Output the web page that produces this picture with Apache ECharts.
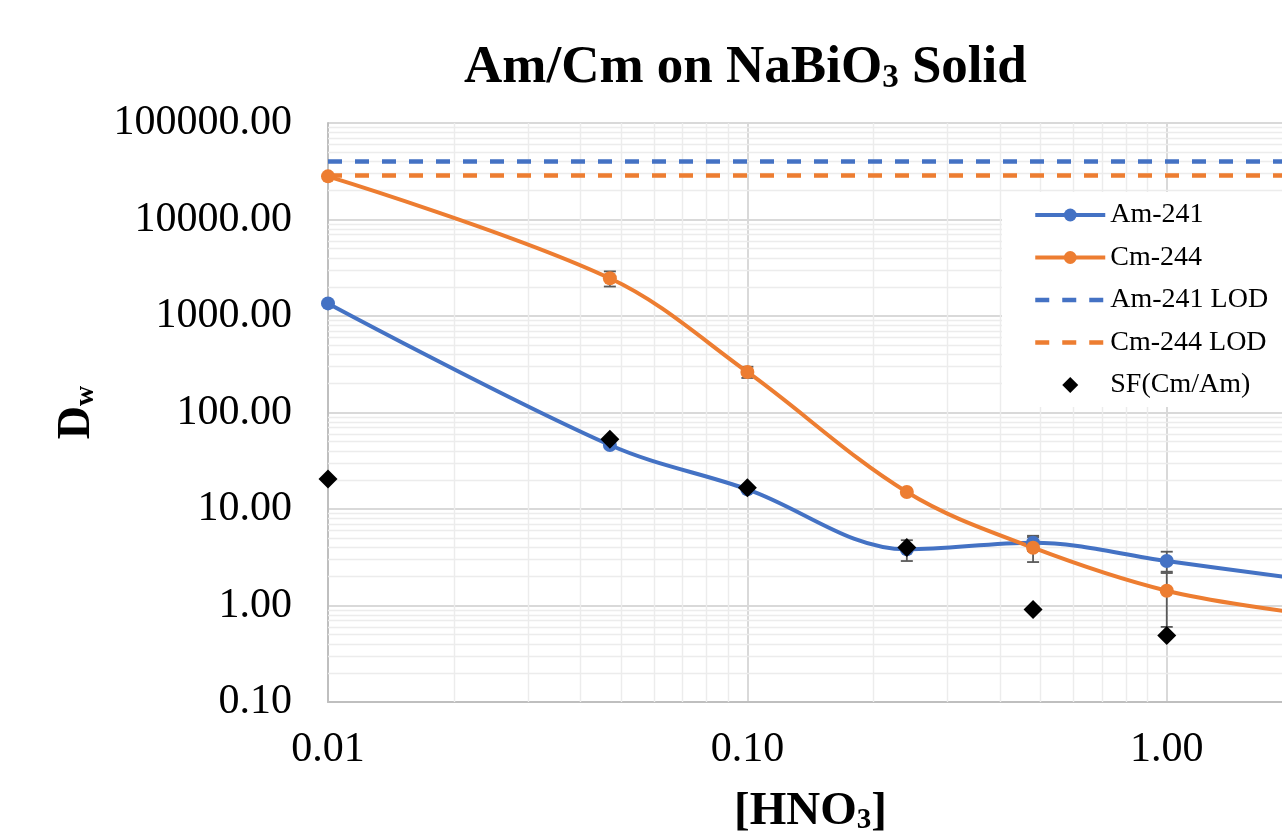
<!DOCTYPE html>
<html>
<head>
<meta charset="utf-8">
<script src="https://cdn.jsdelivr.net/npm/echarts@6/dist/echarts.min.js"></script>
<style>
  html, body { margin: 0; padding: 0; background: #ffffff; }
  #chart { width: 1282px; height: 831px; }
</style>
</head>
<body>
<div id="chart"></div>
<script>
// Nitric acid concentration (M) for each batch contact
const hno3 = [0.01, 0.047, 0.1, 0.24, 0.48, 1.0, 2.0];
// Weight distribution ratios
const am241 = [1350, 46, 16.0, 3.82, 4.48, 2.89, 1.93];
const cm244 = [28000, 2460, 263, 15.0, 3.97, 1.42, 0.85];
// One-sigma uncertainties (0 = none drawn)
const am241Err = [0, 0, 0, 0.93, 0.8, 0.72, 0];
const cm244Err = [0, 440, 35, 0, 1.15, 0.82, 0];
// Separation factor Cm/Am
const sfCmAm = [20.5, 52.8, 16.6, 4.0, 0.91, 0.49, 0.43];
// Limits of detection
const am241Lod = 40000;
const cm244Lod = 28500;
// Axis ranges
const xRange = [0.01, 2];
const yRange = [0.1, 100000];

const FONT = 'Liberation Serif';
const BLUE = '#4472C4';
const ORANGE = '#ED7D31';

const pairs = (xs, ys) => xs.map((x, i) => [x, ys[i]]);
const errData = (xs, ys, es) => xs
  .map((x, i) => [x, ys[i] - es[i], ys[i] + es[i], es[i]])
  .filter(d => d[3] > 0)
  .map(d => [d[0], d[1], d[2]]);

// Minor gridline positions (2..9 within each decade)
const minorX = [];
for (let e = -2; e <= 0; e++) {
  for (let m = 2; m <= 9; m++) {
    const v = +(m * Math.pow(10, e)).toPrecision(3);
    if (v > xRange[0] && v < xRange[1]) minorX.push(v);
  }
}
const minorY = [];
for (let e = -1; e <= 4; e++) {
  for (let m = 2; m <= 9; m++) {
    minorY.push(+(m * Math.pow(10, e)).toPrecision(3));
  }
}

function renderErrorBar(params, api) {
  const x = api.value(0);
  const top = api.coord([x, api.value(2)]);
  const bot = api.coord([x, api.value(1)]);
  const w = 6;
  const style = { stroke: '#595959', lineWidth: 1.8 };
  return {
    type: 'group',
    children: [
      { type: 'line', shape: { x1: top[0], y1: top[1], x2: bot[0], y2: bot[1] }, style },
      { type: 'line', shape: { x1: top[0] - w, y1: top[1], x2: top[0] + w, y2: top[1] }, style },
      { type: 'line', shape: { x1: bot[0] - w, y1: bot[1], x2: bot[0] + w, y2: bot[1] }, style }
    ]
  };
}

// Legend marker styles: LOD entries show only the dashed line; the
// separation-factor entry is a square diamond centred in the icon slot.
const hiddenMarker = { color: 'rgba(0,0,0,0)', borderWidth: 0, opacity: 0 };
const diamondIcon = 'path://M0,0L0.01,0L0,0.01Z M70,16L69.99,16L70,15.99Z M35,0L43,8L35,16L27,8Z';

const chart = echarts.init(document.getElementById('chart'), null, { renderer: 'canvas' });

chart.setOption({
  animation: false,
  backgroundColor: '#ffffff',
  textStyle: { fontFamily: FONT, color: '#000' },
  title: {
    text: '{a|Am/Cm on NaBiO}{s|3}{a| Solid}',
    left: 464,
    top: 42,
    padding: 0,
    textStyle: {
      rich: {
        a: { fontFamily: FONT, fontSize: 53, fontWeight: 'bold', lineHeight: 53, color: '#000' },
        s: { fontFamily: FONT, fontSize: 33, fontWeight: 'bold', lineHeight: 20, verticalAlign: 'bottom', color: '#000' }
      }
    }
  },
  legend: {
    orient: 'vertical',
    left: 1002,
    top: 192,
    z: 10,
    padding: [9, 300, 8, 31],
    itemGap: 14.5,
    itemWidth: 70,
    itemHeight: 16,
    symbolKeepAspect: true,
    backgroundColor: '#ffffff',
    lineStyle: { width: 'inherit' },
    textStyle: { fontFamily: FONT, fontSize: 28, color: '#000' },
    data: [
      { name: 'Am-241' },
      { name: 'Cm-244' },
      { name: 'Am-241 LOD', itemStyle: hiddenMarker },
      { name: 'Cm-244 LOD', itemStyle: hiddenMarker },
      { name: 'SF(Cm/Am)', icon: diamondIcon, itemStyle: { color: '#000', opacity: 1 } }
    ]
  },
  grid: { left: 328, top: 123, width: 965, height: 579, outerBoundsMode: 'none', containLabel: false },
  xAxis: {
    type: 'log',
    logBase: 10,
    min: xRange[0],
    max: xRange[1],
    name: '{a|[HNO}{s|3}{a|]}',
    nameLocation: 'middle',
    nameGap: 86,
    nameTextStyle: {
      rich: {
        a: { fontFamily: FONT, fontSize: 47, fontWeight: 'bold', lineHeight: 47, color: '#000' },
        s: { fontFamily: FONT, fontSize: 29, fontWeight: 'bold', lineHeight: 18, verticalAlign: 'bottom', color: '#000' }
      }
    },
    axisLine: { show: true, lineStyle: { color: '#bfbfbf', width: 2 } },
    axisTick: { show: false },
    axisLabel: {
      fontFamily: FONT, fontSize: 42, color: '#000', margin: 27,
      showMaxLabel: false,
      formatter: v => v.toFixed(2)
    },
    splitLine: { show: true, lineStyle: { color: '#d9d9d9', width: 2 } }
  },
  yAxis: {
    type: 'log',
    logBase: 10,
    min: yRange[0],
    max: yRange[1],
    splitNumber: 6,
    name: '{d|D}{w|w}',
    nameLocation: 'middle',
    nameRotate: 90,
    nameGap: 228,
    nameTextStyle: {
      rich: {
        d: { fontFamily: FONT, fontSize: 46, fontWeight: 'bold', lineHeight: 46, color: '#000' },
        w: { fontFamily: FONT, fontSize: 28, fontWeight: 'bold', lineHeight: 24, verticalAlign: 'bottom', color: '#000' }
      }
    },
    axisLine: { show: true, lineStyle: { color: '#bfbfbf', width: 2 } },
    axisTick: { show: false },
    axisLabel: {
      fontFamily: FONT, fontSize: 42, color: '#000', margin: 36,
      formatter: v => v.toFixed(2)
    },
    splitLine: { show: true, lineStyle: { color: '#d9d9d9', width: 2 } }
  },
  series: [
    {
      name: 'minor-grid',
      type: 'line',
      data: [],
      z: 0,
      silent: true,
      markLine: {
        z: 1,
        silent: true,
        symbol: 'none',
        label: { show: false },
        lineStyle: { color: '#ececec', width: 1.4, type: 'solid' },
        emphasis: { disabled: true },
        data: minorX.map(v => ({ xAxis: v })).concat(minorY.map(v => ({ yAxis: v })))
      }
    },
    {
      name: 'Am-241 LOD',
      type: 'line',
      data: pairs(xRange, [am241Lod, am241Lod]),
      showSymbol: false,
      symbol: 'none',
      z: 2,
      lineStyle: { color: BLUE, width: 4.5, type: [14, 13] },
      itemStyle: { color: BLUE }
    },
    {
      name: 'Cm-244 LOD',
      type: 'line',
      data: pairs(xRange, [cm244Lod, cm244Lod]),
      showSymbol: false,
      symbol: 'none',
      z: 2,
      lineStyle: { color: ORANGE, width: 4.5, type: [14, 13] },
      itemStyle: { color: ORANGE }
    },
    {
      name: 'Am-241 error',
      type: 'custom',
      renderItem: renderErrorBar,
      data: errData(hno3, am241, am241Err),
      encode: { x: 0, y: [1, 2] },
      z: 3,
      silent: true
    },
    {
      name: 'Cm-244 error',
      type: 'custom',
      renderItem: renderErrorBar,
      data: errData(hno3, cm244, cm244Err),
      encode: { x: 0, y: [1, 2] },
      z: 3,
      silent: true
    },
    {
      name: 'Am-241',
      type: 'line',
      data: pairs(hno3, am241),
      smooth: 0.35,
      symbol: 'circle',
      symbolSize: 14,
      z: 4,
      lineStyle: { color: BLUE, width: 4 },
      itemStyle: { color: BLUE }
    },
    {
      name: 'Cm-244',
      type: 'line',
      data: pairs(hno3, cm244),
      smooth: 0.35,
      symbol: 'circle',
      symbolSize: 14,
      z: 4,
      lineStyle: { color: ORANGE, width: 4 },
      itemStyle: { color: ORANGE }
    },
    {
      name: 'SF(Cm/Am)',
      type: 'scatter',
      data: pairs(hno3, sfCmAm),
      symbol: 'diamond',
      symbolSize: 19,
      clip: false,
      z: 6,
      itemStyle: { color: '#000000', opacity: 1 }
    }
  ]
});
</script>
</body>
</html>
